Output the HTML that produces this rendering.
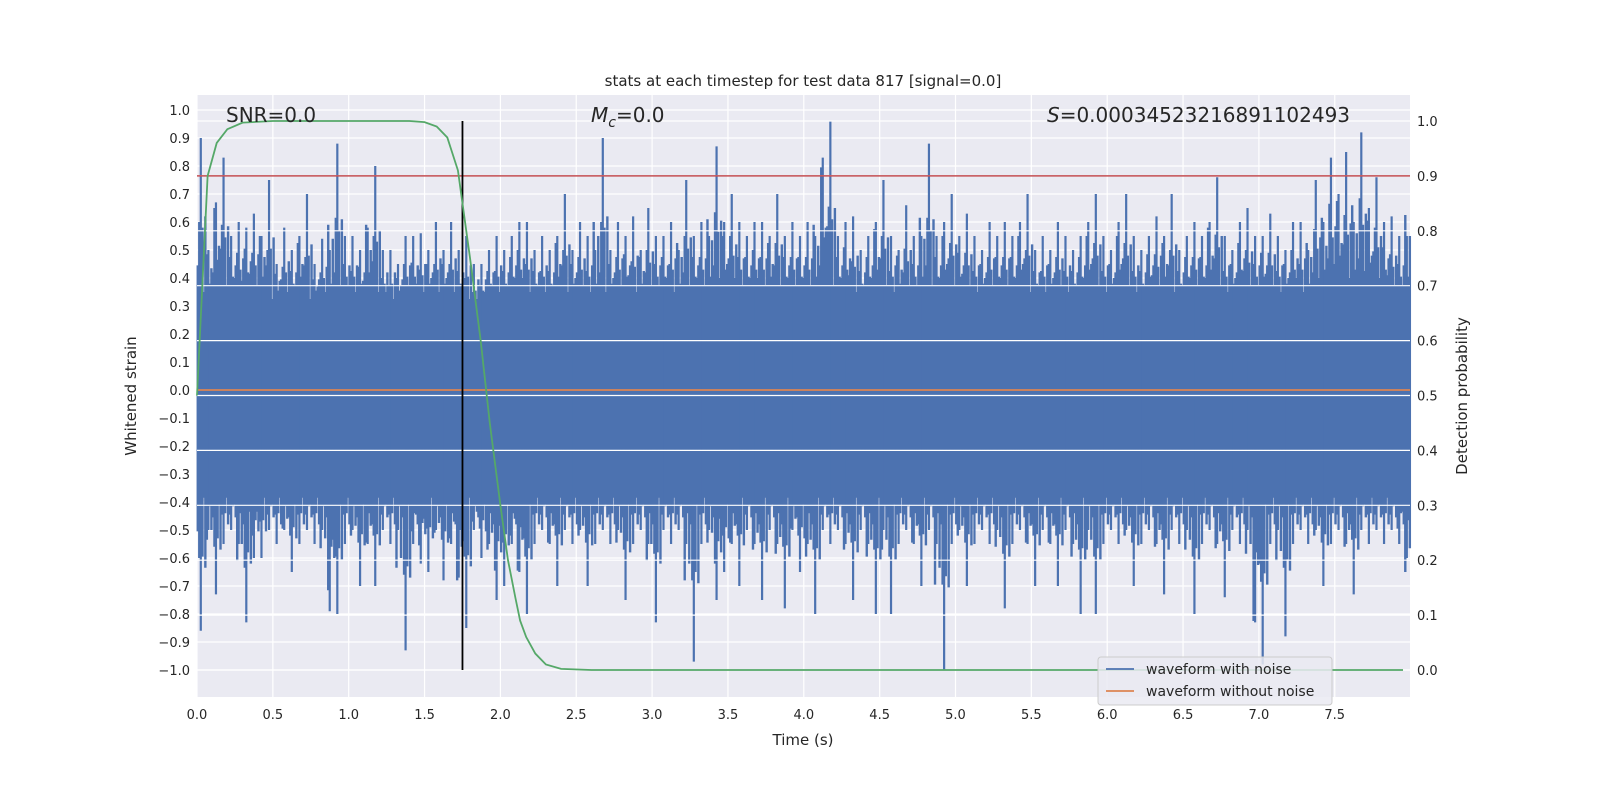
<!DOCTYPE html>
<html><head><meta charset="utf-8"><style>
body{margin:0;background:#fff;}
svg{display:block;font-family:"DejaVu Sans","Liberation Sans",sans-serif;}
</style></head><body>
<svg id="chart" width="1600" height="800" viewBox="0 0 1600 800">
<rect x="197" y="95" width="1213" height="602" fill="#eaeaf2"/>
<g id="gridL"></g>
<g id="wave"></g>
<line id="orange" stroke="#dd8452" stroke-width="1.8"/>
<g id="gridR"></g>
<line id="thresh" stroke="#c44e52" stroke-width="1.5"/>
<line id="vline" stroke="#000" stroke-width="1.8"/>
<polyline id="prob" fill="none" stroke="#55a868" stroke-width="1.8"/>
<g id="ticks" font-size="13" fill="#262626"></g>
<text x="803" y="86" font-size="15" text-anchor="middle" fill="#262626">stats at each timestep for test data 817 [signal=0.0]</text>
<text x="226" y="122" font-size="20" fill="#262626">SNR=0.0</text>
<text x="591" y="122" font-size="20" fill="#262626"><tspan font-style="italic">M</tspan><tspan font-style="italic" font-size="14" dy="5">c</tspan><tspan dy="-5">=0.0</tspan></text>
<text x="1047" y="122" font-size="20" fill="#262626"><tspan font-style="italic">S</tspan>=0.00034523216891102493</text>
<text x="803" y="745" font-size="15" text-anchor="middle" fill="#262626">Time (s)</text>
<text transform="translate(136,396) rotate(-90)" font-size="15" text-anchor="middle" fill="#262626">Whitened strain</text>
<text transform="translate(1467,396) rotate(-90)" font-size="15" text-anchor="middle" fill="#262626">Detection probability</text>
<g>
<rect x="1098" y="657" width="234" height="48" rx="3" fill="#eaeaf2" fill-opacity="0.85" stroke="#cccccc"/>
<line x1="1106" y1="669" x2="1134" y2="669" stroke="#4c72b0" stroke-width="1.8"/>
<text x="1146" y="674" font-size="14" fill="#262626">waveform with noise</text>
<line x1="1106" y1="691" x2="1134" y2="691" stroke="#dd8452" stroke-width="1.8"/>
<text x="1146" y="696" font-size="14" fill="#262626">waveform without noise</text>
</g>
</svg>
<script>
const binWidth = 0.05;
const hiVals = [0.9,0.5,0.67,0.83,0.55,0.6,0.58,0.63,0.55,0.75,0.45,0.58,0.5,0.55,0.7,0.45,0.54,0.5,0.88,0.55,
0.55,0.5,0.58,0.8,0.5,0.5,0.45,0.55,0.55,0.56,0.5,0.6,0.5,0.6,0.5,0.55,0.45,0.45,0.5,0.55,
0.5,0.55,0.6,0.6,0.5,0.55,0.5,0.55,0.7,0.5,0.6,0.55,0.5,0.9,0.5,0.6,0.55,0.62,0.5,0.65,
0.55,0.55,0.6,0.5,0.75,0.55,0.6,0.55,0.87,0.6,0.7,0.6,0.55,0.6,0.6,0.55,0.7,0.55,0.6,0.55,
0.6,0.55,0.83,0.96,0.55,0.6,0.62,0.5,0.55,0.6,0.75,0.55,0.5,0.66,0.55,0.55,0.88,0.55,0.6,0.7,
0.55,0.63,0.55,0.5,0.6,0.55,0.6,0.55,0.6,0.7,0.5,0.55,0.5,0.6,0.55,0.5,0.55,0.6,0.7,0.55,
0.5,0.6,0.7,0.55,0.5,0.55,0.62,0.55,0.7,0.5,0.55,0.6,0.55,0.6,0.76,0.55,0.5,0.6,0.65,0.55,
0.55,0.63,0.55,0.5,0.6,0.6,0.5,0.75,0.6,0.83,0.7,0.85,0.6,0.92,0.65,0.76,0.6,0.62,0.55,0.55];
const loVals = [-0.86,-0.5,-0.73,-0.55,-0.5,-0.55,-0.83,-0.6,-0.6,-0.5,-0.55,-0.5,-0.65,-0.55,-0.5,-0.55,-0.5,-0.79,-0.8,-0.55,
-0.5,-0.7,-0.55,-0.7,-0.5,-0.55,-0.5,-0.93,-0.55,-0.62,-0.65,-0.5,-0.68,-0.55,-0.67,-0.85,-0.5,-0.6,-0.55,-0.75,
-0.7,-0.55,-0.65,-0.8,-0.55,-0.5,-0.55,-0.7,-0.5,-0.55,-0.5,-0.7,-0.55,-0.5,-0.55,-0.5,-0.75,-0.55,-0.5,-0.55,
-0.83,-0.5,-0.55,-0.5,-0.55,-0.97,-0.55,-0.5,-0.75,-0.65,-0.55,-0.7,-0.5,-0.55,-0.75,-0.5,-0.55,-0.78,-0.5,-0.65,
-0.55,-0.8,-0.5,-0.55,-0.5,-0.55,-0.75,-0.5,-0.55,-0.8,-0.5,-0.8,-0.55,-0.5,-0.55,-0.7,-0.5,-0.55,-1.0,-0.55,
-0.5,-0.7,-0.55,-0.5,-0.55,-0.5,-0.78,-0.55,-0.5,-0.55,-0.7,-0.5,-0.55,-0.7,-0.5,-0.55,-0.8,-0.5,-0.8,-0.55,
-0.5,-0.55,-0.5,-0.7,-0.55,-0.5,-0.55,-0.73,-0.5,-0.55,-0.5,-0.8,-0.55,-0.5,-0.55,-0.74,-0.5,-0.55,-0.5,-0.83,
-0.98,-0.55,-0.5,-0.88,-0.55,-0.5,-0.55,-0.5,-0.7,-0.55,-0.5,-0.55,-0.73,-0.5,-0.55,-0.5,-0.55,-0.5,-0.55,-0.6];
const bandTop = 0.26;
const bandBottom = -0.33;
const probTimes = [0,0.07,0.13,0.2,0.3,0.5,1.0,1.4,1.5,1.58,1.65,1.72,1.8,1.87,1.93,2.0,2.05,2.1,2.13,2.17,2.23,2.3,2.4,2.6,7.95];
const probVals = [0.5,0.9,0.96,0.985,0.997,1.0,1.0,1.0,0.998,0.99,0.97,0.91,0.75,0.6,0.45,0.3,0.2,0.13,0.09,0.06,0.03,0.01,0.002,0.0,0.0];
const leftTicks = [1.0,0.9,0.8,0.7,0.6,0.5,0.4,0.3,0.2,0.1,0.0,-0.1,-0.2,-0.3,-0.4,-0.5,-0.6,-0.7,-0.8,-0.9,-1.0];
const rightTicks = [0.0,0.1,0.2,0.3,0.4,0.5,0.6,0.7,0.8,0.9,1.0];
const xTicks = [0.0,0.5,1.0,1.5,2.0,2.5,3.0,3.5,4.0,4.5,5.0,5.5,6.0,6.5,7.0,7.5];
const threshold = 0.9;
const detectTime = 1.75;

const NS='http://www.w3.org/2000/svg';
const X0=197,X1=1410,Y0=95,Y1=697;
const xs=t=>197+151.7*t;
const yL=v=>390-280*v;
const yR=p=>670-549*p;
function mk(tag,attrs,parent){const e=document.createElementNS(NS,tag);for(const k in attrs)e.setAttribute(k,attrs[k]);parent.appendChild(e);return e;}
const gL=document.getElementById('gridL'),gR=document.getElementById('gridR'),tk=document.getElementById('ticks'),wv=document.getElementById('wave');
leftTicks.forEach(v=>{
  const l=mk('line',{x1:X0,x2:X1,y1:yL(v),y2:yL(v),stroke:'#fff','stroke-width':1.2},gL);
  
  
  const t=mk('text',{x:190,y:yL(v)+5,'text-anchor':'end'},tk);
  t.textContent=(v<0?'\u2212'+Math.abs(v).toFixed(1):v.toFixed(1));
  
  
});
xTicks.forEach(v=>{
  const l=mk('line',{x1:xs(v),x2:xs(v),y1:Y0,y2:Y1,stroke:'#fff','stroke-width':1.2},gL);
  
  
  const t=mk('text',{x:xs(v),y:719,'text-anchor':'middle'},tk);
  t.textContent=v.toFixed(1);
  
  
});
const band=mk('rect',{x:X0,y:yL(bandTop),width:X1-X0,height:yL(bandBottom)-yL(bandTop),fill:'#4c72b0'},wv);


const n=hiVals.length;
hiVals.forEach((h,i)=>{
  const hn=hiVals[(i+1)%n], hp=hiVals[(i+n-1)%n];
  const ln=loVals[(i+1)%n], lp=loVals[(i+n-1)%n];
  const segs=[
    [0.5,h,loVals[i],2.2],
    [0.1,(hp+bandTop)/2+0.04,(lp+bandBottom)/2-0.04,2.4],
    [0.3,(h+hn)/2-0.1,(loVals[i]+ln)/2+0.08,2.4],
    [0.72,(h+bandTop)/2,(loVals[i]+bandBottom)/2,2.4],
    [0.9,(hn+bandTop)/2-0.03,(ln+bandBottom)/2+0.03,2.4]
  ];
  segs.forEach(s=>{
    const x=xs((i+s[0])*binWidth);
    const l=mk('line',{x1:x,x2:x,y1:yL(s[1]),y2:yL(s[2]),stroke:'#4c72b0','stroke-width':s[3]},wv);
    
    
  });
});
const o=document.getElementById('orange');
o.setAttribute('x1',X0);o.setAttribute('x2',X1);o.setAttribute('y1',yL(0));o.setAttribute('y2',yL(0));
rightTicks.forEach(v=>{
  const l=mk('line',{x1:X0,x2:X1,y1:yR(v),y2:yR(v),stroke:'#fff','stroke-width':1.2},gR);
  
  
  const t=mk('text',{x:1417,y:yR(v)+5,'text-anchor':'start'},tk);
  t.textContent=v.toFixed(1);
  
  
});
const th=document.getElementById('thresh');
th.setAttribute('x1',X0);th.setAttribute('x2',X1);th.setAttribute('y1',yR(threshold));th.setAttribute('y2',yR(threshold));
const vl=document.getElementById('vline');
vl.setAttribute('x1',xs(detectTime));vl.setAttribute('x2',xs(detectTime));vl.setAttribute('y1',yR(1));vl.setAttribute('y2',yR(0));
document.getElementById('prob').setAttribute('points',probTimes.map((t,i)=>xs(t)+','+yR(probVals[i])).join(' '));
</script>
</body></html>
